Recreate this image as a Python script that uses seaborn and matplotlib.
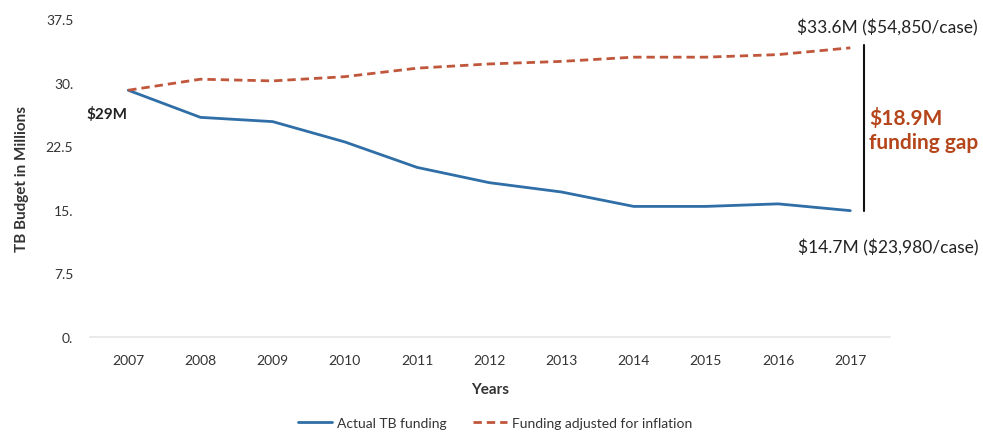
import pandas as pd
import numpy as np
import matplotlib
matplotlib.use("Agg")
import matplotlib.pyplot as plt
import seaborn as sns
from matplotlib.lines import Line2D

years = [2007, 2008, 2009, 2010, 2011, 2012, 2013, 2014, 2015, 2016, 2017]
actual = [29.1, 25.9, 25.4, 23.0, 20.0, 18.2, 17.1, 15.4, 15.4, 15.7, 14.9]
adjusted = [29.1, 30.4, 30.2, 30.7, 31.7, 32.2, 32.5, 33.0, 33.0, 33.3, 34.1]
series_names = ["Actual TB funding", "Funding adjusted for inflation"]
y_ticks = [0, 7.5, 15, 22.5, 30, 37.5]
y_tick_labels = ["0.", "7.5", "15.", "22.5", "30.", "37.5"]

df = pd.DataFrame({
    "Years": years * 2,
    "Budget": actual + adjusted,
    "Series": [series_names[0]] * len(years) + [series_names[1]] * len(years),
})

sns.set_theme(style="white")
plt.rcParams["font.family"] = ["Lato", "DejaVu Sans"]
plt.rcParams["text.parse_math"] = False

fig = plt.figure(figsize=(9.83, 4.35), dpi=100)
ax = fig.add_axes([90 / 983, 1 - 338 / 435, 800 / 983, 318 / 435])

blue = "#2f6ea6"
red = "#c0563b"
sns.lineplot(data=df, x="Years", y="Budget", hue="Series", style="Series",
             palette={series_names[0]: blue, series_names[1]: red},
             dashes={series_names[0]: "", series_names[1]: (3, 1.8)},
             linewidth=2, ax=ax, legend=False)

ax.set_xlim(2006.47, 2017.55)
ax.set_ylim(0, 37.5)
ax.set_xticks(years)
ax.set_xticklabels([str(y) for y in years], fontsize=10, color="#333333")
ax.set_yticks(y_ticks)
ax.set_yticklabels(y_tick_labels, fontsize=10, color="#333333")
ax.tick_params(axis="both", length=0, pad=12)
ax.tick_params(axis="x", pad=12)
for s in ["top", "right", "left"]:
    ax.spines[s].set_visible(False)
ax.spines["bottom"].set_color("#e6e6e6")
ax.spines["bottom"].set_linewidth(1.2)

ax.set_xlabel("Years", fontsize=11, fontweight="bold", color="#333333", labelpad=12)
ax.set_ylabel("TB Budget in Millions", fontsize=11, fontweight="bold", color="#333333")
ax.yaxis.set_label_coords(-61 / 800, 0.5)

# annotations
ax.text(2006.42, 26.3, "$29M", fontsize=11, fontweight="bold", color="#222222",
        ha="left", va="center")
ax.text(1.11, 36.6, "$33.6M ($54,850/case)", fontsize=12.5, color="#222222",
        ha="right", va="center", clip_on=False, transform=ax.get_yaxis_transform())
ax.text(1.11, 10.6, "$14.7M ($23,980/case)", fontsize=12.5, color="#222222",
        ha="right", va="center", clip_on=False, transform=ax.get_yaxis_transform())
ax.plot([2017.19, 2017.19], [14.9, 34.4], color="#111111", linewidth=1.5,
        clip_on=False)
ax.text(2017.26, 25.9, "$18.9M", fontsize=15, fontweight="bold", color="#b5451b",
        ha="left", va="center", clip_on=False)
ax.text(2017.26, 23.0, "funding gap", fontsize=15, fontweight="bold", color="#b5451b",
        ha="left", va="center", clip_on=False)

# legend
handles = [Line2D([], [], color=blue, linewidth=2),
           Line2D([], [], color=red, linewidth=2, linestyle=(0, (3, 1.8)))]
fig.legend(handles, series_names, loc="center", bbox_to_anchor=(0.504, 0.025),
           ncol=2, frameon=False, fontsize=10, handlelength=2.4, columnspacing=1.9,
           handletextpad=0.4, labelcolor="#333333")

fig.savefig("out.png", dpi=100)
